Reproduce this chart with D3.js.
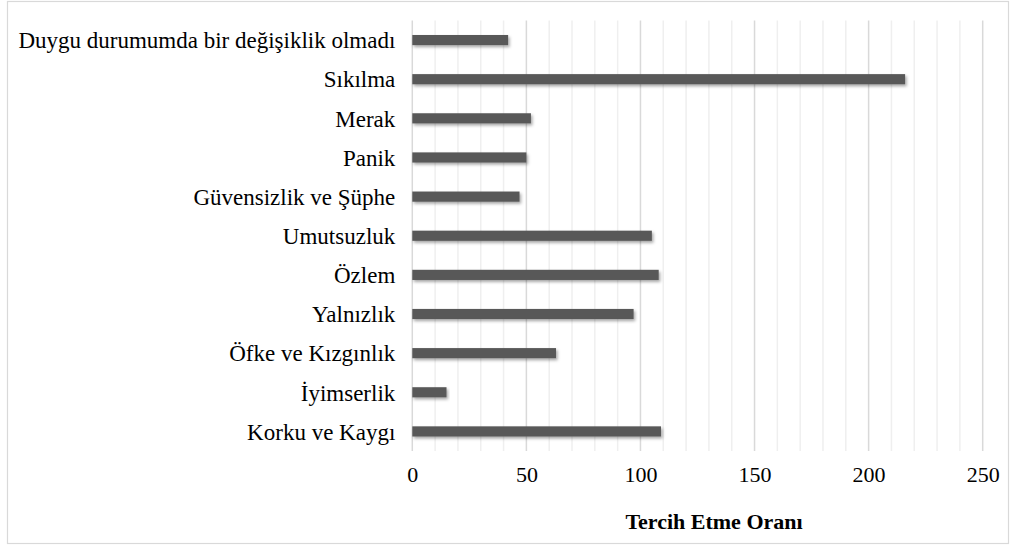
<!DOCTYPE html>
<html><head><meta charset="utf-8">
<script src="https://cdn.jsdelivr.net/npm/d3@7"></script>
<style>body{margin:0;background:#fff}svg{display:block}</style>
</head><body>
<svg id="c" width="1011" height="546"></svg>
<script>
const categories = ["Duygu durumumda bir değişiklik olmadı","Sıkılma","Merak","Panik","Güvensizlik ve Şüphe","Umutsuzluk","Özlem ","Yalnızlık","Öfke ve Kızgınlık","İyimserlik","Korku ve Kaygı"];
const values = [42,216,52,50,47,105,108,97,63,15,109];
const xTicks = [0,50,100,150,200,250];
const minorTicks = d3.range(0,251,10);
const axisTitle = "Tercih Etme Oranı";

const svg = d3.select("#c");
const font = '"Liberation Serif"';
const m = {l:412.3, r:982.7, t:20.5, b:451};

const defs = svg.append("defs");
const f = defs.append("filter").attr("id","sh").attr("x","-5%").attr("y","-50%").attr("width","115%").attr("height","250%");
f.append("feDropShadow").attr("dx",1.5).attr("dy",2).attr("stdDeviation",1.5).attr("flood-color","#000").attr("flood-opacity",0.35);

svg.append("rect").attr("x",7.5).attr("y",1.5).attr("width",1001).attr("height",542)
  .attr("fill","#fff").attr("stroke","#d9d9d9").attr("stroke-width",1.2);

const x = d3.scaleLinear().domain([0,250]).range([m.l,m.r]);
const y = d3.scaleBand().domain(categories).range([m.t,m.b]).paddingInner(0.74).paddingOuter(0.37);

svg.append("g").selectAll("line").data(minorTicks.filter(d=>d%50!==0)).join("line")
  .attr("x1",d=>x(d)).attr("x2",d=>x(d)).attr("y1",m.t).attr("y2",m.b)
  .attr("stroke","#efefef").attr("stroke-width",1.5);
svg.append("g").selectAll("line").data(xTicks).join("line")
  .attr("x1",d=>x(d)).attr("x2",d=>x(d)).attr("y1",m.t).attr("y2",m.b)
  .attr("stroke","#d9d9d9").attr("stroke-width",1.5);

svg.append("g").selectAll("rect").data(values).join("rect")
  .attr("x",x(0)).attr("y",(d,i)=>y(categories[i]))
  .attr("width",d=>x(d)-x(0)).attr("height",y.bandwidth())
  .attr("fill","#595959").attr("filter","url(#sh)");

const ax = svg.append("g").attr("transform",`translate(0,${m.b})`)
  .call(d3.axisBottom(x).tickValues(xTicks).tickSize(0).tickPadding(13));
ax.attr("font-family",null).attr("font-size",null);
ax.select(".domain").remove();
ax.selectAll("text").style("font-family",font).style("font-size","22px").attr("fill","#000").attr("dy","0.8em");

const ay = svg.append("g").attr("transform",`translate(${m.l},0)`)
  .call(d3.axisLeft(y).tickSize(0).tickPadding(17));
ay.attr("font-family",null).attr("font-size",null);
ay.select(".domain").remove();
ay.selectAll("text").style("font-family",font).style("font-size","23px").attr("fill","#000").attr("dy","0.36em");

svg.append("text").attr("x",714).attr("y",529).attr("text-anchor","middle")
  .style("font-family",font).style("font-size","22px").style("font-weight","bold").text(axisTitle);
</script>
</body></html>
